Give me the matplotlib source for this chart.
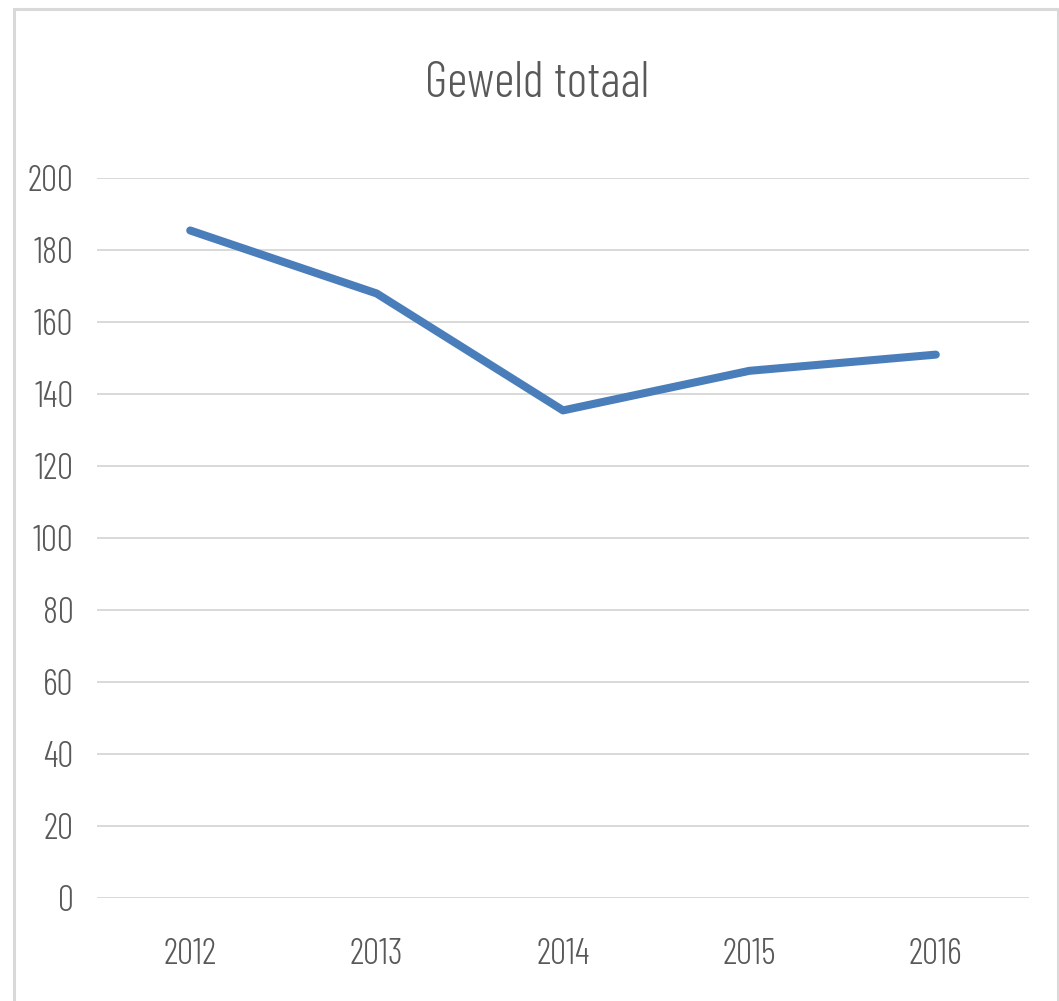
import matplotlib
matplotlib.use("Agg")
import matplotlib.pyplot as plt
from matplotlib.patches import Rectangle

years = ["2012", "2013", "2014", "2015", "2016"]
values = [185.5, 168, 135.5, 146.5, 151]
yticks = [0, 20, 40, 60, 80, 100, 120, 140, 160, 180, 200]
title = "Geweld totaal"

FONT = ["Barlow Condensed", "DejaVu Sans"]
plt.rcParams['font.family'] = FONT
plt.rcParams['font.weight'] = 300

fig = plt.figure(figsize=(10.59, 10.01), dpi=100)
ax = fig.add_axes([97/1059, 1-898/1001, (1029-97)/1059, (898-178.3)/1001])

x = list(range(len(years)))
ax.plot(x, values, color="#4a7ebb", lw=5.8, solid_capstyle="round", solid_joinstyle="round", zorder=3)

ax.set_xlim(-0.5, len(years)-0.5)
ax.set_ylim(0, 200)
ax.set_yticks(yticks)
ax.set_yticklabels([str(v) for v in yticks])
ax.set_xticks(x)
ax.set_xticklabels(years)
ax.tick_params(axis="both", length=0, labelsize=26, labelcolor="#595959")
ax.tick_params(axis="y", pad=17)
ax.tick_params(axis="x", pad=29)
for lab in ax.get_xticklabels() + ax.get_yticklabels():
    lab.set_fontweight(300)
ax.grid(axis="y", color="#d9d9d9", lw=1.4)
ax.set_axisbelow(True)
for s in ax.spines.values():
    s.set_visible(False)

fig.text(537/1059, 1-84/1001, title, ha="center", va="center", fontsize=36,
         color="#595959", fontweight=300)

fig.patches.append(Rectangle((14/1059, -0.02), (1057.5-14)/1059, 1.02-9/1001,
                             transform=fig.transFigure, fill=False, edgecolor="#d9d9d9", lw=2.2))

fig.savefig("out.png", dpi=100, facecolor="white")
